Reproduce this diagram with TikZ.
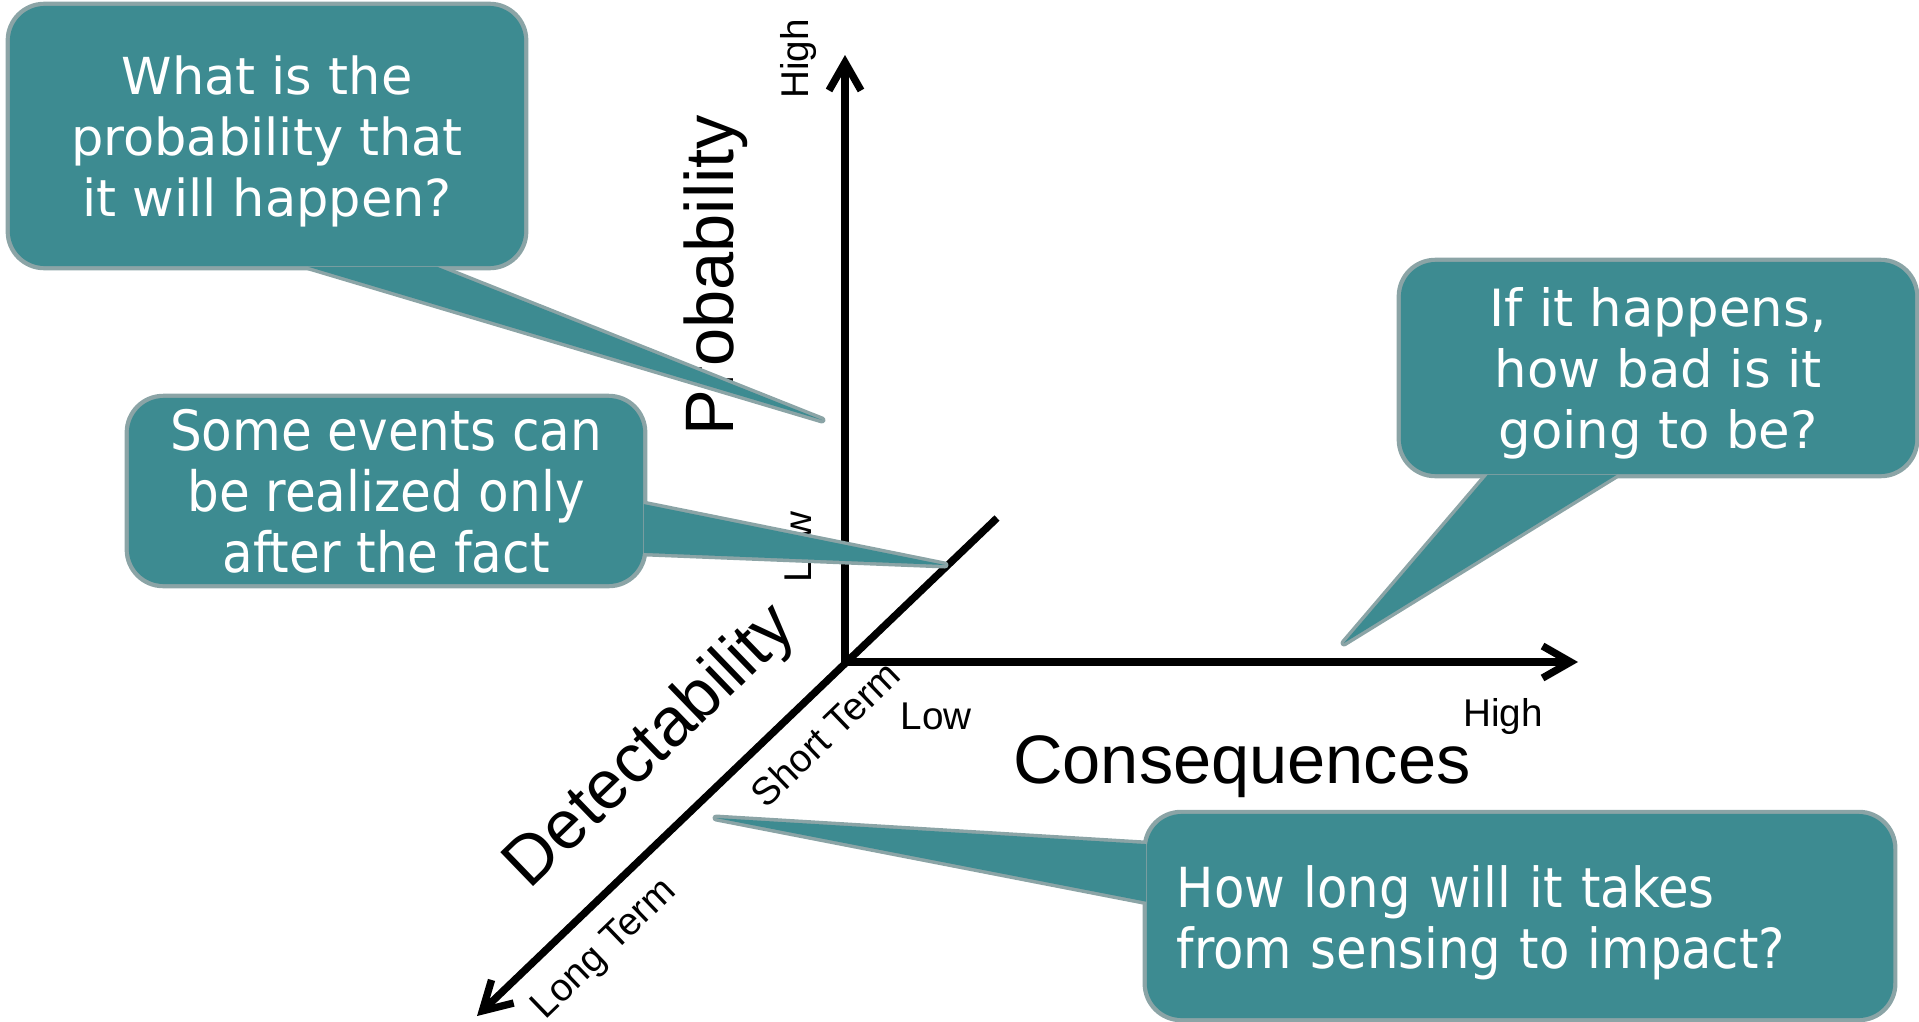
\documentclass[tikz,border=0pt]{standalone}
\usepackage{fontspec}
\setmainfont{Liberation Sans}
\newfontfamily\bubblefont{DejaVu Sans}
\newfontfamily\bubblecond{DejaVu Sans Condensed}
\usepackage{tikz}
\usetikzlibrary{arrows.meta,calc}
\tikzset{>={Straight Barb[length=2.8mm,width=3.2mm]}}
\definecolor{bubblefill}{RGB}{61,139,145}
\definecolor{bubblerim}{RGB}{139,164,166}
\pgfdeclarelayer{rimlayer}
\pgfdeclarelayer{bubblelayer}
\pgfsetlayers{main,rimlayer,bubblelayer}

\begin{document}
\begin{tikzpicture}[x=0.01cm, y=-0.01cm,
    axis/.style={line width=2.1pt},
    bubble/.style={fill=bubblefill, text=white, rounded corners=3.5mm, inner sep=0pt, align=center},
    rim/.style={draw=bubblerim, line width=0.7mm, line join=round, rounded corners=3.5mm},
    small/.style={font=\fontsize{11}{13}\selectfont},
    big/.style={font=\fontsize{19.5}{23}\selectfont}]
  \useasboundingbox (0,0) rectangle (1919,1021);

  \coordinate (o) at (845,662);
  \coordinate (ptop) at (845,55);
  \coordinate (cright) at (1578,662);
  \coordinate (dback) at (997,518);
  \coordinate (dfront) at (477,1016);
  \draw[axis,->] (o) -- (ptop);
  \draw[axis,->] (o) -- (cright);
  \draw[axis,->] (dback) -- (dfront);

  \node[small, rotate=90] (phigh) at (798,59) {High};
  \node[big, rotate=90] (plabel) at (716,275) {Probability};
  \node[small, rotate=90] (plow) at (798,547) {Low};
  \node[small] (clow) at (936,716) {Low};
  \node[small] (chigh) at (1503,716) {High};
  \node[big] (clabel) at (1242,767) {Consequences};
  \node[big, rotate=44] (dlabel) at (652,748) {Detectability};
  \node[small, rotate=44] (dshort) at (825,734) {Short Term};
  \node[small, rotate=44] (dlong) at (605,950) {Long Term};

  \coordinate (tprob) at (822,420);
  \coordinate (tafter) at (945,565);
  \coordinate (tbad) at (1344,643);
  \coordinate (tlong) at (716,818);

  \begin{pgfonlayer}{bubblelayer}
    \node[bubble, text depth=0pt, minimum width=5.14cm, minimum height=2.60cm,
      font=\bubblefont\fontsize{14.5}{17.4}\selectfont] (qprob) at (267,136)
      {What is the\\probability that\\it will happen?};
    \node[bubble, text depth=0pt, minimum width=5.14cm, minimum height=1.86cm,
      font=\bubblecond\fontsize{15.8}{17.4}\selectfont] (qafter) at (386,491)
      {Some events can\\be realized only\\after the fact};
    \node[bubble, text depth=0pt, minimum width=5.14cm, minimum height=2.12cm,
      font=\bubblefont\fontsize{14.6}{17.4}\selectfont] (qbad) at (1658,368)
      {If it happens,\\how bad is it\\going to be?};
    \node[bubble, align=left, text width=6.86cm, text depth=17pt, inner xsep=3mm, minimum height=2.04cm,
      font=\bubblecond\fontsize{15.7}{17.4}\selectfont] (qlong) at (1520,916)
      {How long will it takes\\from sensing to impact?};

    \coordinate (bprob1) at ($(qprob.south west)!0.58!(qprob.south east)$);
    \coordinate (bprob2) at ($(qprob.south west)!0.83!(qprob.south east)$);
    \coordinate (bafter1) at ($(qafter.north east)!0.57!(qafter.south east)$);
    \coordinate (bafter2) at ($(qafter.north east)!0.83!(qafter.south east)$);
    \coordinate (bbad1) at ($(qbad.south west)!0.17!(qbad.south east)$);
    \coordinate (bbad2) at ($(qbad.south west)!0.42!(qbad.south east)$);
    \coordinate (blong1) at ($(qlong.north west)!0.15!(qlong.south west)$);
    \coordinate (blong2) at ($(qlong.north west)!0.43!(qlong.south west)$);

    \fill[bubblefill] (bprob1) -- (tprob) -- (bprob2) -- cycle;
    \fill[bubblefill] (bafter1) -- (tafter) -- (bafter2) -- cycle;
    \fill[bubblefill] (bbad1) -- (tbad) -- (bbad2) -- cycle;
    \fill[bubblefill] (blong1) -- (tlong) -- (blong2) -- cycle;
  \end{pgfonlayer}

  \begin{pgfonlayer}{rimlayer}
    \foreach \q in {qprob, qafter, qbad, qlong} {
      \draw[rim] (\q.north west) rectangle (\q.south east);
    }
    \draw[rim, rounded corners=0pt] (bprob1) -- (tprob) -- (bprob2);
    \draw[rim, rounded corners=0pt] (bafter1) -- (tafter) -- (bafter2);
    \draw[rim, rounded corners=0pt] (bbad1) -- (tbad) -- (bbad2);
    \draw[rim, rounded corners=0pt] (blong1) -- (tlong) -- (blong2);
  \end{pgfonlayer}
\end{tikzpicture}
\end{document}
